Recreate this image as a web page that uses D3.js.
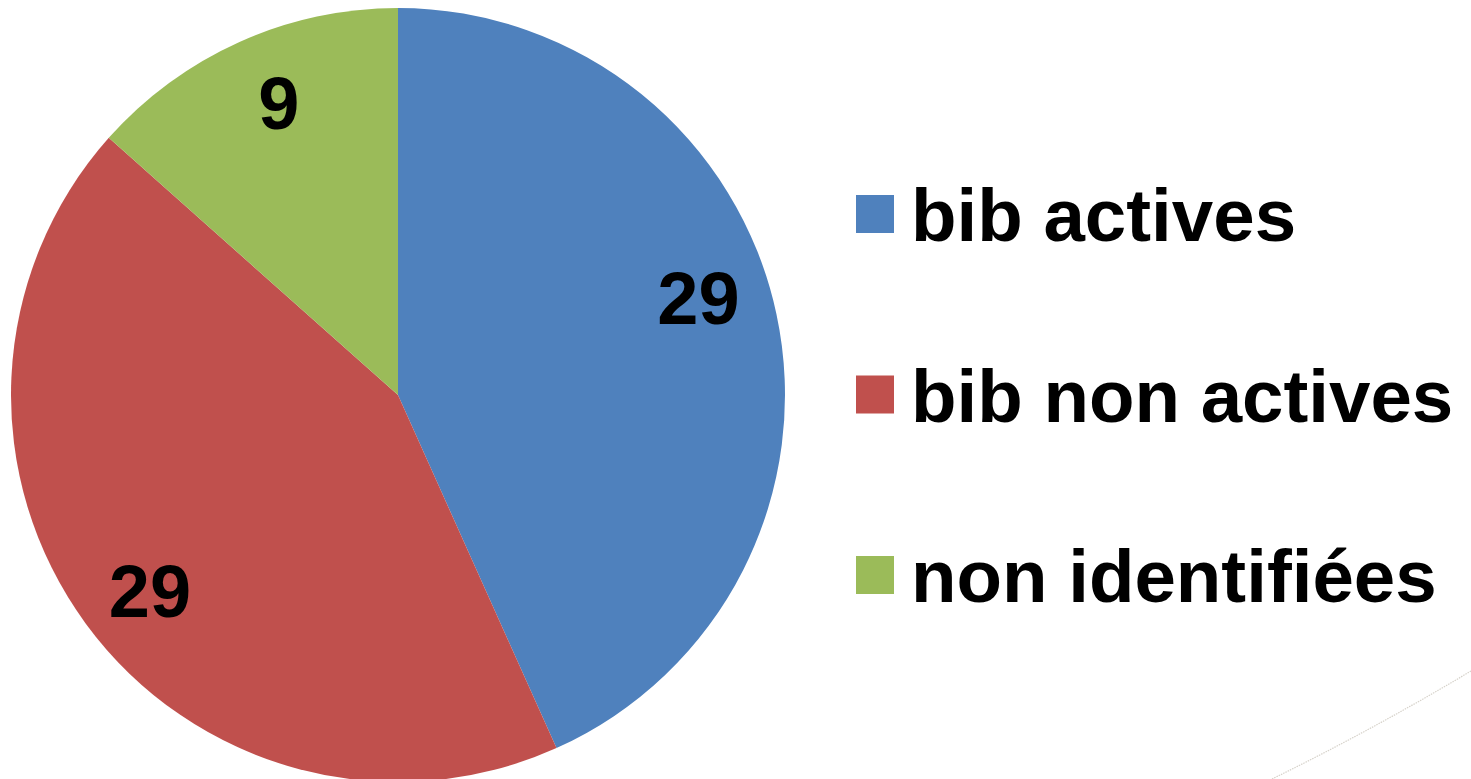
<!DOCTYPE html>
<html>
<head>
<meta charset="utf-8">
<title>Pie</title>
<script src="https://cdn.jsdelivr.net/npm/d3@7"></script>
<style>
  body { margin: 0; background: #fff; }
  text { font-family: "Liberation Sans", Arial, sans-serif; font-weight: bold; }
</style>
</head>
<body>
<script>
// data
var categories = ["bib actives", "bib non actives", "non identifiées"];
var values = [29, 29, 9];
var colors = ["#4F81BD", "#C0504D", "#9BBB59"];
// small angular nudge (degrees) for the value labels, like the "best fit" placement
var labelNudge = [-6, -2, 2];

var W = 1471, H = 779;
var cx = 398, cy = 395, R = 387;

var svg = d3.select("body").append("svg").attr("width", W).attr("height", H);

// faint decorative arc bottom right
var deco = d3.path();
deco.moveTo(1272, 779);
deco.quadraticCurveTo(1372, 730, 1471, 671);
svg.append("path").attr("d", deco.toString())
  .attr("fill", "none").attr("stroke", "#d6d2ca").attr("stroke-width", 1.2)
  .attr("stroke-dasharray", "1.5,1");

var pie = d3.pie().sort(null).value(function(d) { return d; });
var arcs = pie(values);

var arc = d3.arc().innerRadius(0).outerRadius(R);
var labelArc = d3.arc().innerRadius(316).outerRadius(316);

var g = svg.append("g").attr("transform", "translate(" + cx + "," + cy + ")");

g.selectAll("path.slice").data(arcs).enter().append("path")
  .attr("class", "slice")
  .attr("d", arc)
  .attr("fill", function(d, i) { return colors[i]; });

g.selectAll("text.lbl").data(arcs).enter().append("text")
  .attr("class", "lbl")
  .attr("transform", function(d, i) {
    var n = labelNudge[i] * Math.PI / 180;
    var c = labelArc.centroid({startAngle: d.startAngle + n, endAngle: d.endAngle + n});
    return "translate(" + c + ")";
  })
  .attr("text-anchor", "middle")
  .attr("dy", "0.36em")
  .attr("font-size", "74px")
  .attr("fill", "#000")
  .text(function(d) { return d.value; });

// legend
var legend = svg.append("g").attr("transform", "translate(856,241)");
var rows = legend.selectAll("g").data(categories).enter().append("g")
  .attr("transform", function(d, i) { return "translate(0," + (i * 180.5) + ")"; });
rows.append("rect").attr("x", 0).attr("y", -46).attr("width", 38).attr("height", 38)
  .attr("fill", function(d, i) { return colors[i]; });
rows.append("text").attr("x", 55).attr("y", 0)
  .attr("font-size", "74.5px").attr("fill", "#000")
  .text(function(d) { return d; });
</script>
</body>
</html>
